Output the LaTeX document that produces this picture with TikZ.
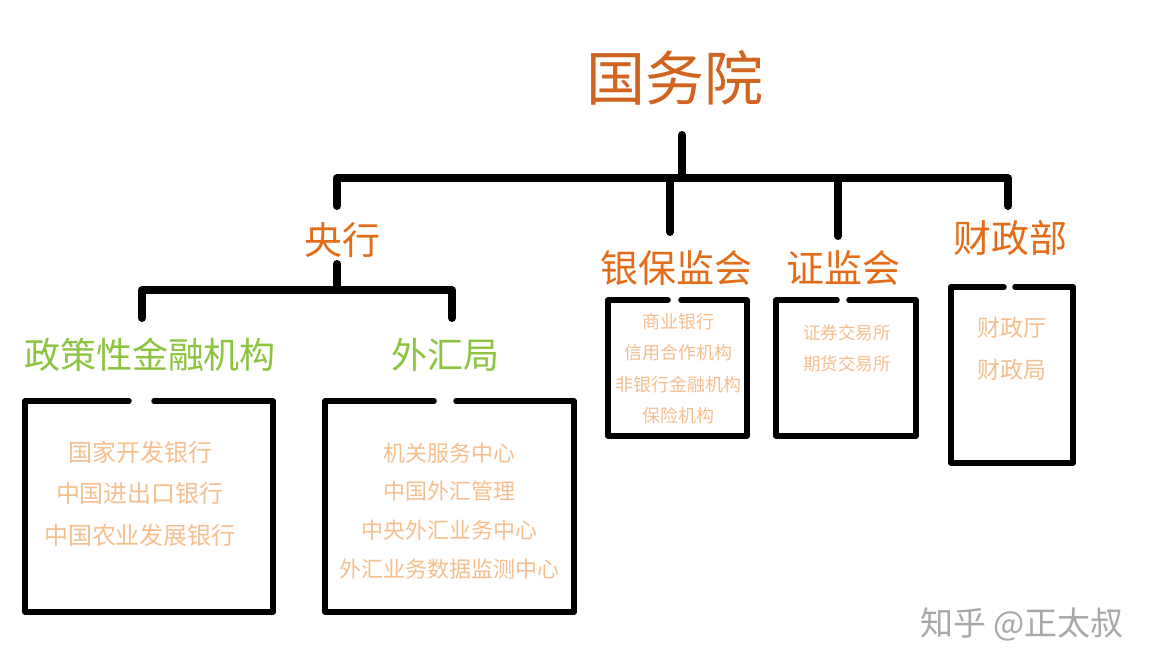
\documentclass[tikz,border=0pt]{standalone}
\usepackage{fontspec}
\setmainfont{Noto Sans CJK SC}
\definecolor{titleorange}{RGB}{208,100,32}
\definecolor{deptorange}{RGB}{228,108,24}
\definecolor{subgreen}{RGB}{140,196,64}
\definecolor{itempeach}{RGB}{245,192,142}
\definecolor{markgray}{RGB}{168,168,168}
\tikzset{
  tree/.style={line width=8pt,line cap=round,line join=round},
  frame/.style={line width=5.5pt,line cap=round,line join=round},
  dept/.style={text=deptorange,font=\fontsize{38}{38}\selectfont,inner sep=0pt},
  sub/.style={text=subgreen,font=\fontsize{36}{36}\selectfont,inner sep=0pt},
}
\begin{document}
\begin{tikzpicture}[x=1pt,y=-1pt]
\useasboundingbox[fill=white] (0,0) rectangle (1160,672);

% top level
\node[text=titleorange,font=\fontsize{59}{59}\selectfont,inner sep=0pt] (gwy) at (675,78) {国务院};
\coordinate (gwy-stem) at (682,135);
\coordinate (bar) at (0,178);
\coordinate (yh-drop) at (337,206);
\coordinate (yb-drop) at (670,232);
\coordinate (zj-drop) at (838,236);
\coordinate (cz-drop) at (1008,206);
\draw[tree] (gwy-stem) -- (gwy-stem |- bar);
\draw[tree] (yh-drop) -- (yh-drop |- bar) -- (cz-drop |- bar) -- (cz-drop);
\draw[tree] (yb-drop) -- (yb-drop |- bar);
\draw[tree] (zj-drop) -- (zj-drop |- bar);

\node[dept] (yh) at (342,240) {央行};
\node[dept] (ybjh) at (676,268) {银保监会};
\node[dept] (zjh) at (843,268) {证监会};
\node[dept] (czb) at (1010,238) {财政部};

% under the central bank
\coordinate (yh-stem) at (337,264);
\coordinate (bar2) at (0,290);
\coordinate (zc-drop) at (142,318);
\coordinate (wh-drop) at (452,318);
\draw[tree] (yh-stem) -- (yh-stem |- bar2);
\draw[tree] (zc-drop) -- (zc-drop |- bar2) -- (wh-drop |- bar2) -- (wh-drop);

\node[sub] (zcx) at (150,355) {政策性金融机构};
\node[sub] (whj) at (445,355) {外汇局};

% boxes, open at the top
\draw[frame] (154,401) -- (273,401) -- (273,612) -- (25,612) -- (25,401) -- (129,401);
\draw[frame] (456,401) -- (574,401) -- (574,612) -- (325,612) -- (325,401) -- (434,401);
\draw[frame] (681,300) -- (747,300) -- (747,436) -- (608,436) -- (608,300) -- (668,300);
\draw[frame] (849,300) -- (916,300) -- (916,436) -- (776,436) -- (776,300) -- (837,300);
\draw[frame] (1015,287) -- (1073,287) -- (1073,463) -- (951,463) -- (951,287) -- (1004,287);

\begin{scope}[every node/.style={text=itempeach,inner sep=0pt}]
\node[font=\fontsize{24}{24}\selectfont] (gkh) at (140,452) {国家开发银行};
\node[font=\fontsize{24}{24}\selectfont] (jck) at (140,493) {中国进出口银行};
\node[font=\fontsize{24}{24}\selectfont] (nfh) at (140,535) {中国农业发展银行};
\node[font=\fontsize{22}{22}\selectfont] (jgfw) at (449,453) {机关服务中心};
\node[font=\fontsize{22}{22}\selectfont] (whgl) at (449,491) {中国外汇管理};
\node[font=\fontsize{22}{22}\selectfont] (zywh) at (449,530) {中央外汇业务中心};
\node[font=\fontsize{22}{22}\selectfont] (sjjc) at (449,569) {外汇业务数据监测中心};
\node[font=\fontsize{18}{18}\selectfont] (syyh) at (678,322) {商业银行};
\node[font=\fontsize{18}{18}\selectfont] (xyhz) at (678,353) {信用合作机构};
\node[font=\fontsize{18}{18}\selectfont] (fyh) at (678,385) {非银行金融机构};
\node[font=\fontsize{18}{18}\selectfont] (bxjg) at (678,416) {保险机构};
\node[font=\fontsize{17.5}{17.5}\selectfont] (zqjy) at (847,333) {证券交易所};
\node[font=\fontsize{17.5}{17.5}\selectfont] (qhjy) at (847,364) {期货交易所};
\node[font=\fontsize{23}{23}\selectfont] (czt) at (1012,328) {财政厅};
\node[font=\fontsize{23}{23}\selectfont] (czj) at (1012,370) {财政局};
\end{scope}

\node[text=markgray,font=\fontsize{33}{33}\selectfont,inner sep=0pt] (mark) at (1022,624) {知乎 @正太叔};
\end{tikzpicture}
\end{document}
